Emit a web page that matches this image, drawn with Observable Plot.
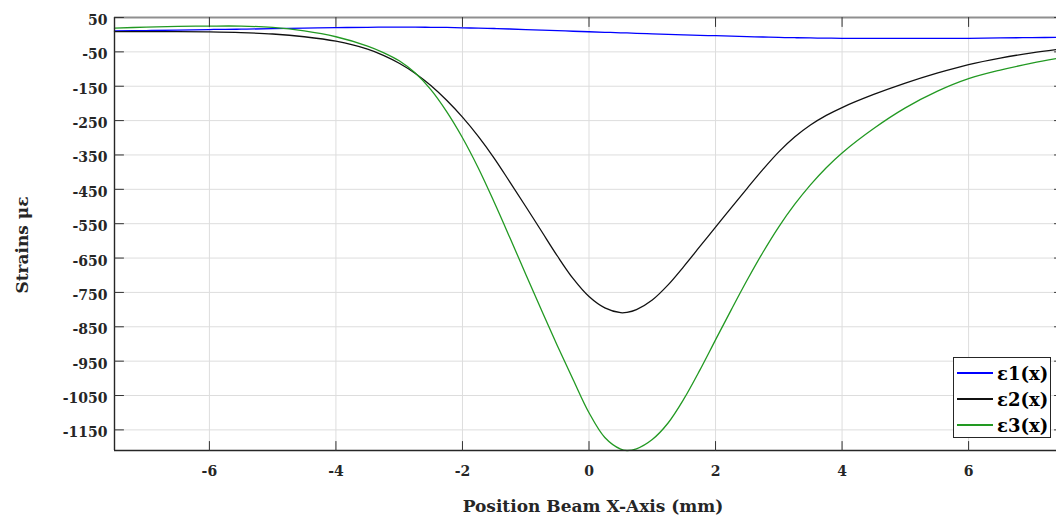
<!DOCTYPE html>
<html><head><meta charset="utf-8">
<script src="https://cdn.jsdelivr.net/npm/d3@7"></script>
<script src="https://cdn.jsdelivr.net/npm/@observablehq/plot@0.6"></script>
<style>
html,body{margin:0;padding:0;background:#fff;overflow:hidden;}
#wrap{position:relative;width:1056px;height:520px;overflow:hidden;}
.legend{position:absolute;left:953px;top:357px;width:98px;height:81px;border:1px solid #262626;background:#fff;box-sizing:border-box;font-family:"DejaVu Serif";font-weight:bold;font-size:18px;color:#000;}
.row{position:absolute;left:3px;height:26px;display:flex;align-items:center;white-space:nowrap;}
.sw{width:36px;height:1.4px;margin-right:4px;}
</style></head><body><div id="wrap"></div>
<script>
const xs = [-7.5,-7,-6.5,-6,-5.5,-5,-4.5,-4,-3.5,-3.25,-3,-2.75,-2.5,-2.25,-2,-1.75,-1.5,-1.25,-1,-0.75,-0.5,-0.25,0,0.25,0.5,0.6,0.75,1,1.25,1.5,1.75,2,2.25,2.5,2.75,3,3.25,3.5,3.75,4,4.5,5,5.5,6,6.5,7,7.5];
const e1 = [11,12,13.5,15,16,17.5,19,20.5,21.5,22,22,22,21.5,21,20,19,18,16.5,15,13.5,12,10,8.5,7,5.5,5,4,2.5,1,-0.5,-2,-3,-4.3,-5.5,-6.8,-8,-8.8,-9.5,-10,-10.5,-11,-11,-11,-10.5,-9.5,-8.5,-8];
const e2 = [9,9,9,8,6,2,-6,-19,-42,-60,-83,-112,-148,-191,-240,-296,-359,-429,-500,-572,-644,-710,-762,-795,-809,-808,-800,-772,-728,-674,-617,-560,-503,-447,-392,-341,-298,-263,-235,-212,-174,-141,-112,-87,-68,-53,-41];
const e3 = [19,22,24,25,25,21,11,-6,-33,-52,-76,-111,-160,-224,-300,-388,-487,-591,-697,-802,-905,-1004,-1100,-1172,-1206,-1210,-1205,-1178,-1130,-1060,-977,-888,-800,-714,-633,-559,-494,-437,-387,-344,-273,-213,-165,-128,-103,-83,-66];
const seriesNames = ["ε1(x)","ε2(x)","ε3(x)"];
const seriesColors = ["#0000ff","#111111","#229922"];
const xTicks = [-6,-4,-2,0,2,4,6];
const yTicks = [50,-50,-150,-250,-350,-450,-550,-650,-750,-850,-950,-1050,-1150];
const xLabel = "Position Beam X-Axis (mm)";
const yLabel = "Strains με";
const xDomain = [-7.5, 7.5];
const yDomain = [-1210, 50];

const rows = xs.map((x, i) => ({x, e1: e1[i], e2: e2[i], e3: e3[i]}));
const keys = ["e1","e2","e3"];
const tickShape = {draw(ctx, l) { ctx.moveTo(0, 0); ctx.lineTo(0, -l); }};
const tickStyle = {length: 9, anchor: "start", shape: tickShape, stroke: "#333", strokeWidth: 1};

const chart = Plot.plot({
  width: 1056, height: 520,
  marginLeft: 114, marginRight: -7, marginTop: 17, marginBottom: 70,
  x: {domain: xDomain},
  y: {domain: yDomain},
  style: {fontFamily: "DejaVu Serif", background: "white"},
  marks: [
    Plot.gridX(xTicks, {stroke: "#dddddd", strokeOpacity: 1}),
    Plot.gridY(yTicks, {stroke: "#dddddd", strokeOpacity: 1}),
    ...keys.map((k, i) => Plot.line(rows, {x: "x", y: k, stroke: seriesColors[i], strokeWidth: 1.3, curve: "catmull-rom"})),
    Plot.ruleY([yDomain[1]], {stroke: "#8f8f8f", strokeWidth: 2}),
    Plot.ruleX([xDomain[0]], {stroke: "#262626", strokeWidth: 1.4}),
    Plot.ruleY([yDomain[0]], {stroke: "#262626", strokeWidth: 1.4}),
    Plot.vector(xTicks, {x: d => d, frameAnchor: "bottom", rotate: 0, ...tickStyle}),
    Plot.vector(xTicks, {x: d => d, frameAnchor: "top", rotate: 180, ...tickStyle}),
    Plot.vector(yTicks, {y: d => d, frameAnchor: "left", rotate: 90, ...tickStyle}),
    Plot.vector(yTicks, {y: d => d, frameAnchor: "right", rotate: -90, ...tickStyle}),
    Plot.axisX(xTicks, {tickSize: 0, tickPadding: 16, fontSize: 14, fontWeight: "bold", fill: "#262626", tickFormat: d => String(d), label: null}),
    Plot.axisY(yTicks, {tickSize: 0, tickPadding: 7, dy: 3, fontSize: 14, fontWeight: "bold", fill: "#262626", tickFormat: d => String(d), label: null}),
    Plot.text([yLabel], {text: d => d, frameAnchor: "left", textAnchor: "middle", lineAnchor: "middle", dx: -92, dy: 11, rotate: -90, fontSize: 17, fontWeight: "bold", fill: "#262626"}),
    Plot.text([xLabel], {text: d => d, frameAnchor: "bottom", textAnchor: "middle", lineAnchor: "middle", dx: 4, dy: 56, fontSize: 17, fontWeight: "bold", fill: "#262626"})
  ]
});
const wrap = document.getElementById("wrap");
wrap.appendChild(chart);
const lg = document.createElement("div");
lg.className = "legend";
seriesNames.forEach((n, i) => {
  const r = document.createElement("div");
  r.className = "row";
  r.style.top = (2 + i * 26) + "px";
  const sw = document.createElement("div");
  sw.className = "sw";
  sw.style.background = seriesColors[i];
  const t = document.createElement("span");
  t.textContent = n;
  r.appendChild(sw); r.appendChild(t);
  lg.appendChild(r);
});
wrap.appendChild(lg);
</script>
</body></html>
